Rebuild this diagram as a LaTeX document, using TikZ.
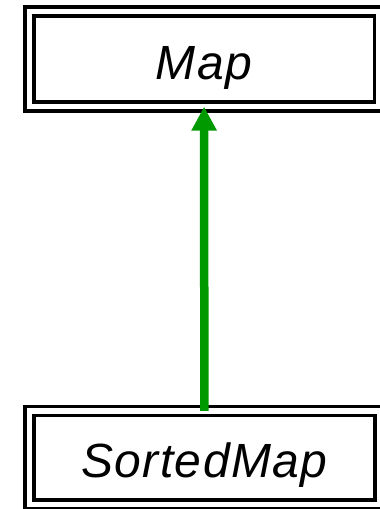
\documentclass[tikz,border=0pt]{standalone}
\usepackage{fontspec}
\setmainfont{Liberation Sans}[LetterSpace=3]
\usetikzlibrary{arrows.meta}
\definecolor{inheritgreen}{RGB}{0,153,0}
\tikzset{
  classbox/.style={
    draw=black, line width=3.7pt, double=white, double distance=5.3pt,
    rectangle, outer sep=0pt, inner sep=0pt,
    font=\fontsize{48pt}{56pt}\selectfont\itshape
  },
  extends/.style={
    draw=inheritgreen, line width=8.5pt,
    -{Triangle[width=24pt,length=24pt]}
  }
}
\begin{document}
\begin{tikzpicture}[x=1pt,y=1pt]
  \useasboundingbox (0,0) rectangle (380,-509);
  % interface boxes
  \node[classbox, minimum width=349.8pt, minimum height=95.5pt,
        text height=43pt, text depth=1pt] (map) at (204.1,-58.95) {Map};
  \node[classbox, minimum width=350.3pt, minimum height=93.6pt,
        text height=40pt, text depth=1.4pt] (sortedmap) at (204.35,-457.7) {SortedMap};
  % inheritance arrow
  \draw[extends] (sortedmap.north) -- (map.south);
\end{tikzpicture}
\end{document}
